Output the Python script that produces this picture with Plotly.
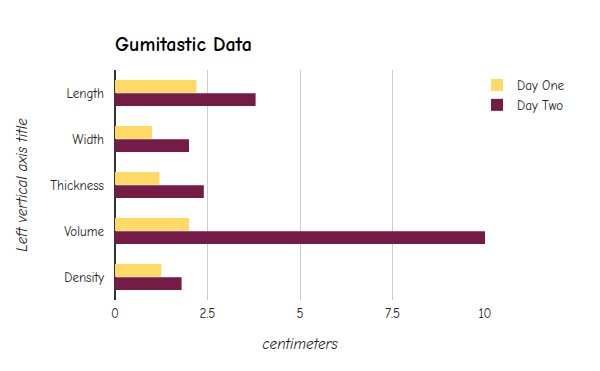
import plotly.graph_objects as go

categories = ["Length", "Width", "Thickness", "Volume", "Density"]
day_one = [2.2, 1.0, 1.2, 2.0, 1.25]
day_two = [3.8, 2.0, 2.4, 10.0, 1.8]
x_ticks = [0, 2.5, 5, 7.5, 10]
x_tick_labels = ["0", "2.5", "5", "7.5", "10"]

FONT = "Comic Sans MS, Comic Neue, Open Sans, sans-serif"

fig = go.Figure()
fig.add_trace(go.Bar(y=categories, x=day_one, name="Day One", orientation="h",
                     marker=dict(color="#ffd966", line=dict(width=0))))
fig.add_trace(go.Bar(y=categories, x=day_two, name="Day Two", orientation="h",
                     marker=dict(color="#741b47", line=dict(width=0))))

fig.update_layout(
    width=600, height=371,
    margin=dict(l=115, r=115, t=70, b=71),
    paper_bgcolor="white", plot_bgcolor="white",
    font=dict(family=FONT, size=13, color="#222222"),
    barmode="group", bargap=0.42, bargroupgap=0.05,
    title=dict(text="<b>Gumitastic Data</b>", x=115/600, xanchor="left",
               y=1-44/371, yanchor="middle", font=dict(family=FONT, size=20, color="#000000")),
    legend=dict(x=(477 - 115) / 370, xanchor="left", y=1.0, yanchor="top",
                font=dict(family=FONT, size=13, color="#222222"),
                bgcolor="rgba(0,0,0,0)", itemwidth=30, tracegroupgap=0),
    showlegend=True,
)
fig.update_xaxes(range=[0, 10], tickvals=x_ticks, ticktext=x_tick_labels,
                 showgrid=True, gridcolor="#cccccc", gridwidth=1, zeroline=True,
                 zerolinecolor="#333333", zerolinewidth=1.5, showline=False,
                 ticks="", ticklabelstandoff=4,
                 title=dict(text="<i>centimeters</i>", standoff=18,
                            font=dict(family=FONT, size=15, color="#222222")))
fig.update_yaxes(autorange="reversed", showgrid=False, showline=False, ticks="",
                 ticklabelstandoff=10,
                 title=dict(text="<i>Left vertical axis title</i>", standoff=18,
                            font=dict(family=FONT, size=15, color="#222222")))

fig.write_html("out.html", post_script="document.body.style.margin='0';",
               config={"displayModeBar": False})
